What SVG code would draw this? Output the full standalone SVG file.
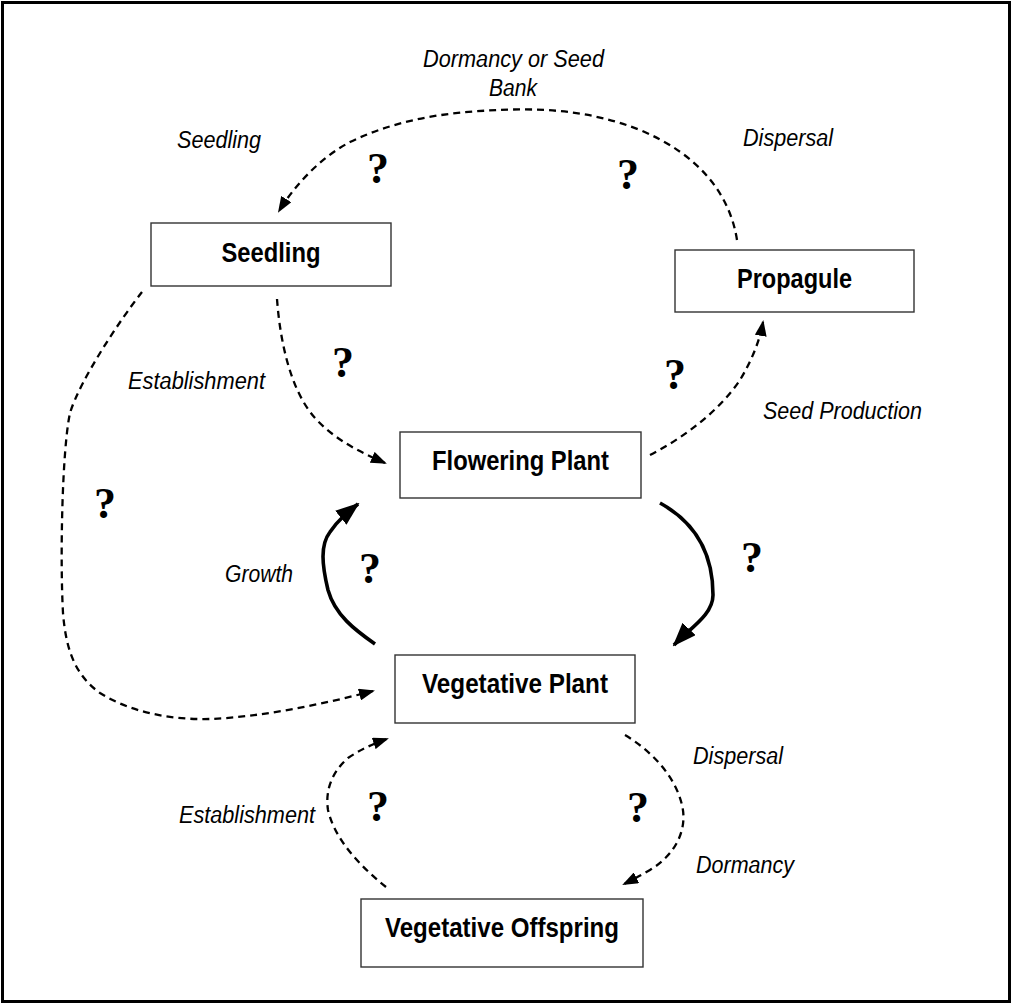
<svg xmlns="http://www.w3.org/2000/svg" width="1012" height="1004" viewBox="0 0 1012 1004">
<style>
.box{fill:#fff;stroke:#333;stroke-width:1.4}
.nt{font-family:"Liberation Sans Narrow","Liberation Sans",Arial,sans-serif;font-weight:bold;font-size:28px;fill:#000;text-anchor:middle}
.lb{font-family:"Liberation Sans Narrow","Liberation Sans",Arial,sans-serif;font-style:italic;font-size:23px;fill:#000}
.q{font-family:"Liberation Serif","Times New Roman",serif;font-weight:bold;font-size:44px;fill:#000;text-anchor:middle}
.d{fill:none;stroke:#000;stroke-width:2.3;stroke-dasharray:7 5;marker-end:url(#ah)}
.s{fill:none;stroke:#000;stroke-width:3.6;marker-end:url(#ahs)}
</style>
<defs>
<marker id="ah" markerUnits="userSpaceOnUse" markerWidth="16" markerHeight="12" refX="14" refY="6" orient="auto">
<path d="M0,0 L16,6 L0,12 z" fill="#000"/>
</marker>
<marker id="ahs" markerUnits="userSpaceOnUse" markerWidth="24" markerHeight="18" refX="22" refY="9" orient="auto">
<path d="M0,0 L24,9 L0,18 z" fill="#000"/>
</marker>
</defs>
<rect x="2.5" y="2.5" width="1007" height="999" fill="#fff" stroke="#000" stroke-width="3"/>
<g id="connectors">
<path class="d" d="M737,240 C730,195 700,155 640,130 C590,110 540,108 499,110 C450,112 400,118 350,142 C320,158 295,185 279,211"/>
<path class="d" d="M650,455 C685,437 720,410 740,380 C752,360 760,340 763,322"/>
<path class="d" d="M277,299 C280,340 290,390 315,418 C335,440 360,452 385,463"/>
<path class="d" d="M142,292 C120,320 80,380 70,413 C62,450 60,560 63,613 C66,650 75,675 100,693 C130,712 170,720 210,719 C260,717 320,705 373,691"/>
<path class="s" d="M375,644 C355,630 335,615 328,590 C322,565 320,545 330,532 C338,520 348,512 358,504"/>
<path class="s" d="M660,503 C700,525 713,560 713,595 C713,615 690,628 674,645"/>
<path class="d" d="M625,735 C650,750 675,775 682,805 C688,830 675,855 650,870 C640,876 632,880 624,884"/>
<path class="d" d="M386,887 C360,866 335,840 328,810 C325,790 332,772 348,758 C360,750 372,744 387,739"/>
</g>
<g id="seedling"><rect class="box" x="151" y="223" width="240" height="63"/><text class="nt" x="271" y="262" textLength="99" lengthAdjust="spacingAndGlyphs">Seedling</text></g>
<g id="propagule"><rect class="box" x="675" y="250" width="239" height="62"/><text class="nt" x="794.5" y="288" textLength="115" lengthAdjust="spacingAndGlyphs">Propagule</text></g>
<g id="flowering"><rect class="box" x="400" y="432" width="241" height="66"/><text class="nt" x="520.5" y="470" textLength="177" lengthAdjust="spacingAndGlyphs">Flowering Plant</text></g>
<g id="vegetative"><rect class="box" x="395" y="655" width="240" height="68"/><text class="nt" x="515" y="693" textLength="186" lengthAdjust="spacingAndGlyphs">Vegetative Plant</text></g>
<g id="offspring"><rect class="box" x="361" y="899" width="282" height="68"/><text class="nt" x="502" y="937" textLength="234" lengthAdjust="spacingAndGlyphs">Vegetative Offspring</text></g>
<g id="labels">
<text class="lb" x="423" y="67" textLength="181" lengthAdjust="spacingAndGlyphs">Dormancy or Seed</text>
<text class="lb" x="489" y="96" textLength="48" lengthAdjust="spacingAndGlyphs">Bank</text>
<text class="lb" x="177" y="148" textLength="84" lengthAdjust="spacingAndGlyphs">Seedling</text>
<text class="lb" x="743" y="146" textLength="90" lengthAdjust="spacingAndGlyphs">Dispersal</text>
<text class="lb" x="128" y="389" textLength="137" lengthAdjust="spacingAndGlyphs">Establishment</text>
<text class="lb" x="763" y="419" textLength="159" lengthAdjust="spacingAndGlyphs">Seed Production</text>
<text class="lb" x="225" y="582" textLength="68" lengthAdjust="spacingAndGlyphs">Growth</text>
<text class="lb" x="693" y="764" textLength="90" lengthAdjust="spacingAndGlyphs">Dispersal</text>
<text class="lb" x="696" y="873" textLength="98" lengthAdjust="spacingAndGlyphs">Dormancy</text>
<text class="lb" x="179" y="823" textLength="136" lengthAdjust="spacingAndGlyphs">Establishment</text>
</g>
<g id="questions">
<text class="q" x="378" y="183">?</text>
<text class="q" x="628" y="189">?</text>
<text class="q" x="343" y="377">?</text>
<text class="q" x="675" y="389">?</text>
<text class="q" x="105" y="518">?</text>
<text class="q" x="370" y="583">?</text>
<text class="q" x="752" y="572">?</text>
<text class="q" x="378" y="821">?</text>
<text class="q" x="638" y="822">?</text>
</g>
</svg>
